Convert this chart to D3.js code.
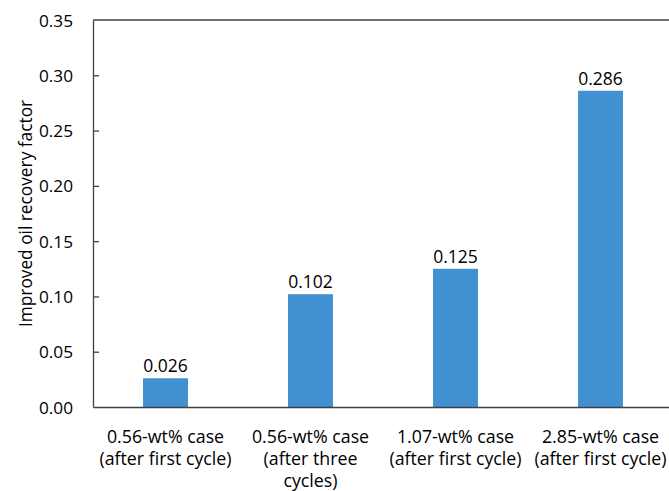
<!DOCTYPE html>
<html><head><meta charset="utf-8">
<script src="https://cdn.jsdelivr.net/npm/d3@7"></script>
<style>body{margin:0;background:#fff}svg{display:block}text{font-family:"Open Sans",sans-serif;fill:#000}</style>
</head><body><svg id="c" width="669" height="491"></svg>
<script>
const categories = [
  ["0.56-wt% case","(after first cycle)"],
  ["0.56-wt% case","(after three","cycles)"],
  ["1.07-wt% case","(after first cycle)"],
  ["2.85-wt% case","(after first cycle)"]
];
const values = [0.026, 0.102, 0.125, 0.286];
const valueLabels = ["0.026","0.102","0.125","0.286"];
const yTicks = [0,0.05,0.10,0.15,0.20,0.25,0.30,0.35];
const yTitle = "Improved oil recovery factor";

const svg = d3.select("#c");
const L = 93, T = 20, B = 407, R = 673;
const x = d3.scaleBand().domain(d3.range(categories.length)).range([L, R]).paddingInner(0.69).paddingOuter(0.345);
const y = d3.scaleLinear().domain([0, 0.35]).range([B, T]);
const axisColor = "#404040";

// bars
svg.selectAll("rect.bar").data(values).enter().append("rect")
  .attr("x", (d,i)=>x(i)).attr("width", x.bandwidth())
  .attr("y", d=>y(d)).attr("height", d=>B-y(d)).attr("fill", "#4191d2");

// value labels
svg.selectAll("text.val").data(values).enter().append("text")
  .attr("x", (d,i)=>x(i)+x.bandwidth()/2).attr("y", d=>y(d)-6)
  .attr("text-anchor","middle").attr("font-size",17.5).text((d,i)=>valueLabels[i]);

// y axis
const ya = d3.axisLeft(y).tickValues(yTicks).tickFormat(d3.format(".2f")).tickSizeInner(-6).tickSizeOuter(0).tickPadding(20);
const gy = svg.append("g").attr("transform",`translate(${L},0)`).call(ya);
gy.select(".domain").attr("stroke",axisColor).attr("stroke-width",1.3);
gy.selectAll(".tick line").attr("stroke",axisColor).attr("stroke-width",1.3);
gy.selectAll(".tick text").attr("font-size",17.2).attr("font-family","Open Sans").attr("fill","#000").attr("dy","0.35em");
gy.selectAll(".tick").filter(d=>d===0||d===0.35).select("line").remove();

// top line
svg.append("line").attr("x1",L).attr("x2",669).attr("y1",y(0.35)).attr("y2",y(0.35)).attr("stroke",axisColor).attr("stroke-width",1.3);

// x axis
const xa = d3.axisBottom(x).tickSize(0).tickFormat("");
const gx = svg.append("g").attr("transform",`translate(0,${B})`).call(xa);
gx.select(".domain").attr("stroke",axisColor).attr("stroke-width",1.3);

// category labels
categories.forEach((lines,i)=>{
  const t = svg.append("text").attr("text-anchor","middle").attr("font-size",17.8)
    .attr("x", x(i)+x.bandwidth()/2).attr("y", 443);
  lines.forEach((ln,j)=>t.append("tspan").attr("x", x(i)+x.bandwidth()/2).attr("dy", j===0?0:22).text(ln));
});

// y title
svg.append("text").attr("transform",`translate(32,${(T+B)/2}) rotate(-90)`)
  .attr("text-anchor","middle").attr("font-size",17.3).text(yTitle);
</script></body></html>
